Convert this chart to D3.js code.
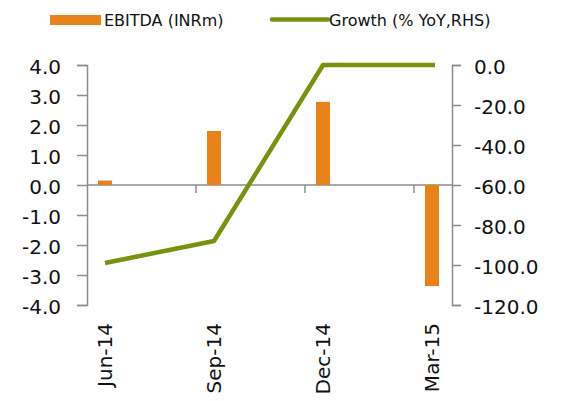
<!DOCTYPE html>
<html>
<head>
<meta charset="utf-8">
<script src="https://cdn.jsdelivr.net/npm/d3@7"></script>
<style>
  body { margin: 0; background: #fff; }
  svg text { font-family: "DejaVu Sans", Verdana, sans-serif; fill: #111; }
</style>
</head>
<body>
<svg id="chart"></svg>
<script>
// quarterly EBITDA (INRm, left axis) and YoY growth (%, right axis)
var quarters = ["Jun-14", "Sep-14", "Dec-14", "Mar-15"];
var ebitda = [0.15, 1.8, 2.77, -3.37];
var growth = [-99, -88, 0, 0];
var leftTicks = [4, 3, 2, 1, 0, -1, -2, -3, -4];
var rightTicks = [0, -20, -40, -60, -80, -100, -120];

var width = 562, height = 401;
var plotLeft = 87, plotRight = 452, plotTop = 65, plotBottom = 305;
var step = 109;

// one decimal, plain hyphen for negatives
var fmt = d => d.toFixed(1);

var svg = d3.select("#chart")
    .attr("width", width)
    .attr("height", height)

var x = d3.scaleBand()
    .domain(quarters)
    .range([plotLeft, plotLeft + step * quarters.length])

var yL = d3.scaleLinear().domain([-4, 4]).range([plotBottom, plotTop])
var yR = d3.scaleLinear().domain([-120, 0]).range([plotBottom, plotTop])

var axisColor = "#8c8c8c";

// left axis
var gL = svg.append("g")
    .attr("transform", "translate(" + plotLeft + ",0)")
    .call(d3.axisLeft(yL).tickValues(leftTicks).tickFormat(fmt).tickSize(10).tickPadding(16))
gL.select(".domain").attr("stroke", axisColor).attr("stroke-width", 1.5)
gL.selectAll(".tick line").attr("stroke", axisColor).attr("stroke-width", 1.5)
gL.selectAll(".tick text")
    .attr("font-size", 20)
    .attr("dy", "0.42em")

// right axis
var gR = svg.append("g")
    .attr("transform", "translate(" + plotRight + ",0)")
    .call(d3.axisRight(yR).tickValues(rightTicks).tickFormat(fmt).tickSize(9).tickPadding(13))
gR.select(".domain").attr("stroke", axisColor).attr("stroke-width", 1.5)
gR.selectAll(".tick line").attr("stroke", axisColor).attr("stroke-width", 1.5)
gR.selectAll(".tick text")
    .attr("font-size", 20)
    .attr("dy", "0.42em")

// category axis sits on the zero line
var y0 = yL(0);
svg.append("line")
    .attr("x1", plotLeft).attr("x2", plotRight)
    .attr("y1", y0).attr("y2", y0)
    .attr("stroke", axisColor).attr("stroke-width", 1.5)

svg.selectAll(".qtick")
    .data(quarters.slice(1))
    .enter().append("line")
    .attr("class", "qtick")
    .attr("x1", d => x(d)).attr("x2", d => x(d))
    .attr("y1", y0).attr("y2", y0 + 8)
    .attr("stroke", axisColor).attr("stroke-width", 1.5)

// bars
var barOff = 11, barW = 14;
svg.selectAll(".bar")
    .data(ebitda)
    .enter().append("rect")
    .attr("class", "bar")
    .attr("x", (d, i) => x(quarters[i]) + barOff)
    .attr("width", barW)
    .attr("y", d => Math.min(yL(d), y0))
    .attr("height", d => Math.abs(yL(d) - y0))
    .attr("fill", "#e8821a")

// growth line, last point runs a little past the bar centre
var line = d3.line()
    .x((d, i) => x(quarters[i]) + barOff + barW / 2 + (i === quarters.length - 1 ? 3 : 0))
    .y(d => yR(d))

svg.append("path")
    .datum(growth)
    .attr("d", line)
    .attr("fill", "none")
    .attr("stroke", "#77920f")
    .attr("stroke-width", 4.5)
    .attr("stroke-linejoin", "round")

// rotated quarter labels below the plot
svg.selectAll(".qlabel")
    .data(quarters)
    .enter().append("text")
    .attr("class", "qlabel")
    .attr("font-size", 20)
    .attr("text-anchor", "end")
    .attr("transform", d => "translate(" + (x(d) + barOff + barW / 2 + 7) + "," + 323 + ") rotate(-90)")
    .text(d => d)

// legend
var legend = svg.append("g")
legend.append("rect")
    .attr("x", 50).attr("y", 15).attr("width", 51).attr("height", 10)
    .attr("fill", "#e8821a")
legend.append("text")
    .attr("x", 104).attr("y", 26)
    .attr("font-size", 16)
    .text("EBITDA (INRm)")
legend.append("line")
    .attr("x1", 272).attr("x2", 328)
    .attr("y1", 19.5).attr("y2", 19.5)
    .attr("stroke", "#77920f").attr("stroke-width", 4.5)
    .attr("stroke-linecap", "round")
legend.append("text")
    .attr("x", 329).attr("y", 26)
    .attr("font-size", 16)
    .text("Growth (% YoY,RHS)")
</script>
</body>
</html>
